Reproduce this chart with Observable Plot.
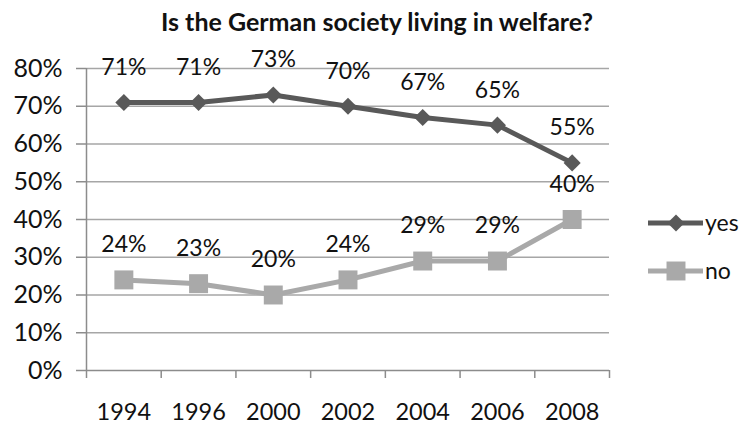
<!DOCTYPE html>
<html><head><meta charset="utf-8">
<script src="https://cdn.jsdelivr.net/npm/d3@7"></script>
<script src="https://cdn.jsdelivr.net/npm/@observablehq/plot@0.6"></script>
<style>
body{margin:0;background:#fff;font-family:Lato,sans-serif;}
#wrap{position:relative;width:745px;height:426px;overflow:hidden;background:#fff}
#title{height:44px;line-height:43px;text-align:center;font-weight:bold;font-size:25px;color:#111;padding-left:9px;box-sizing:border-box;white-space:nowrap}
#legend{position:absolute;left:0;top:0;width:745px;height:426px;pointer-events:none}
</style></head><body>
<div id="wrap"><div id="title">Is the German society living in welfare?</div><div id="chart"></div><svg id="legend" width="745" height="426"></svg></div>
<script>
const years = ["1994","1996","2000","2002","2004","2006","2008"];
const yesValues = [71,71,73,70,67,65,55];
const noValues = [24,23,20,24,29,29,40];
const seriesNames = ["yes","no"];
const seriesColors = ["#595959","#a9a9a9"];
const yTickValues = [0,10,20,30,40,50,60,70,80];

const data = [];
years.forEach((y,i)=>{
  data.push({i, year:y, series:"yes", v:yesValues[i]});
  data.push({i, year:y, series:"no", v:noValues[i]});
});
const idx = years.map((d,i)=>i);
const bounds = years.map((d,i)=>i-0.5).concat([years.length-0.5]);
const yT = yTickValues.map(v=>v/100);

const chart = Plot.plot({
  width:745, height:382,
  marginLeft:86, marginRight:136, marginTop:24, marginBottom:56,
  style:{fontFamily:"Lato, sans-serif", fontSize:"23px", color:"#111", background:"#fff"},
  x:{type:"linear", domain:[-0.5, years.length-0.5], label:null},
  y:{domain:[0,0.8], label:null},
  color:{domain:seriesNames, range:seriesColors},
  marks:[
    Plot.ruleY(yT.slice(1), {stroke:"#a6a6a6", strokeWidth:1.5}),
    Plot.ruleY([0], {stroke:"#8c8c8c", strokeWidth:1.5}),
    Plot.ruleX([-0.5], {stroke:"#8c8c8c", strokeWidth:1.5}),
    Plot.axisY(yT, {tickSize:10, tickPadding:14, tickFormat:d3.format(".0%"), stroke:"#8c8c8c", strokeWidth:1.5, fontSize:25, fill:"#111", label:null}),
    Plot.axisX(bounds, {tickSize:8, tickFormat:()=>"", stroke:"#8c8c8c", strokeWidth:1.5, label:null}),
    Plot.axisX(idx, {tickSize:0, tickPadding:33, tickFormat:i=>years[i], fontSize:23.5, fill:"#111", label:null}),
    Plot.line(data, {x:"i", y:d=>d.v/100, z:"series", stroke:"series", strokeWidth:5, strokeLinejoin:"round"}),
    Plot.dot(data.filter(d=>d.series==="yes"), {x:"i", y:d=>d.v/100, symbol:"diamond2", r:7.7, fill:seriesColors[0], stroke:"none"}),
    Plot.dot(data.filter(d=>d.series==="no"), {x:"i", y:d=>d.v/100, symbol:"square", r:10.7, fill:seriesColors[1], stroke:"none"}),
    Plot.text(data, {x:"i", y:d=>d.v/100, text:d=>d.v+"%", dy:-35, fontSize:23, fill:"#111"})
  ]
});
document.getElementById("chart").appendChild(chart);

// legend
const lg = d3.select("#legend");
const legY = [223, 271];
seriesNames.forEach((s,k)=>{
  const g = lg.append("g").attr("transform",`translate(0,${legY[k]})`);
  g.append("line").attr("x1",648).attr("x2",703).attr("y1",0).attr("y2",0).attr("stroke",seriesColors[k]).attr("stroke-width",5);
  const sym = k===0 ? d3.symbol(d3.symbolDiamond2, Math.PI*7.7*7.7) : d3.symbol(d3.symbolSquare, Math.PI*10.7*10.7);
  g.append("path").attr("d",sym()).attr("transform","translate(676,0)").attr("fill",seriesColors[k]);
  g.append("text").attr("x",705).attr("y",0).attr("dy","0.35em").attr("font-size",23).attr("font-family","Lato, sans-serif").attr("fill","#111").text(s);
});
</script>
</body></html>
